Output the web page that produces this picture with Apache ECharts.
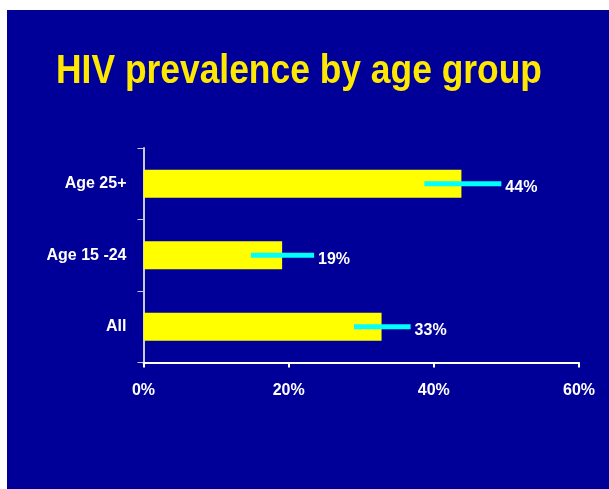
<!DOCTYPE html>
<html>
<head>
<meta charset="utf-8">
<script src="https://cdn.jsdelivr.net/npm/echarts@6/dist/echarts.min.js"></script>
<style>
html,body{margin:0;padding:0;background:#ffffff;width:609px;height:489px;overflow:hidden;}
#chart{position:absolute;left:7px;top:10px;width:602px;height:479px;}
</style>
</head>
<body>
<div id="chart"></div>
<script>
// Data
const titleText = 'HIV prevalence by age group';
const categories = ['All', 'Age 15 -24', 'Age 25+'];
const prevalence = [32.8, 19.1, 43.8];
const lowerBound = [29.0, 14.8, 38.7];
const upperBound = [36.8, 23.5, 49.3];
const valueLabels = ['33%', '19%', '44%'];
const xTickMin = 0, xTickMax = 60, xTickStep = 20;

const FONT = '"Liberation Sans", Arial, Helvetica, sans-serif';
const chart = echarts.init(document.getElementById('chart'));

const errorData = categories.map((c, i) => [lowerBound[i], upperBound[i], i, valueLabels[i]]);

chart.setOption({
  backgroundColor: '#000099',
  animation: false,
  graphic: [{
    type: 'text',
    x: 292, y: 62,
    scaleX: 0.885,
    originX: 0,
    style: {
      text: titleText,
      fill: '#FFE800',
      font: 'bold 40px ' + FONT,
      textAlign: 'center',
      textVerticalAlign: 'middle'
    }
  }],
  grid: { left: 136.5, right: 30, top: 138, bottom: 126.5, containLabel: false },
  xAxis: {
    type: 'value',
    min: xTickMin, max: xTickMax, interval: xTickStep,
    axisLine: { show: true, lineStyle: { color: '#ffffff', width: 2 } },
    axisTick: { show: true, length: 5, lineStyle: { color: '#ffffff', width: 2 } },
    splitLine: { show: false },
    axisLabel: {
      formatter: '{value}%', color: '#ffffff', fontWeight: 'bold',
      fontSize: 16, fontFamily: FONT, margin: 20
    }
  },
  yAxis: {
    type: 'category',
    data: categories,
    axisLine: { show: true, lineStyle: { color: '#C8C8E8', width: 2 } },
    axisTick: { show: true, length: 6, lineStyle: { color: '#C8C8E8', width: 1 } },
    axisLabel: {
      color: '#ffffff', fontWeight: 'bold', fontSize: 16, fontFamily: FONT, margin: 17
    }
  },
  series: [{
    type: 'bar',
    data: prevalence,
    barWidth: 28,
    itemStyle: { color: '#FFFF00' },
    z: 2
  }, {
    type: 'custom',
    data: errorData,
    z: 5,
    renderItem: function (params, api) {
      const lo = api.coord([api.value(0), api.value(2)]);
      const hi = api.coord([api.value(1), api.value(2)]);
      return {
        type: 'group',
        children: [{
          type: 'line',
          shape: { x1: lo[0], y1: lo[1], x2: hi[0], y2: hi[1] },
          style: { stroke: '#00FFFF', lineWidth: 5 }
        }, {
          type: 'text',
          x: hi[0] + 4, y: hi[1] + 4,
          style: {
            text: valueLabels[params.dataIndex],
            fill: '#ffffff',
            font: 'bold 16px ' + FONT,
            textAlign: 'left',
            textVerticalAlign: 'middle'
          }
        }]
      };
    }
  }]
});
</script>
</body>
</html>
